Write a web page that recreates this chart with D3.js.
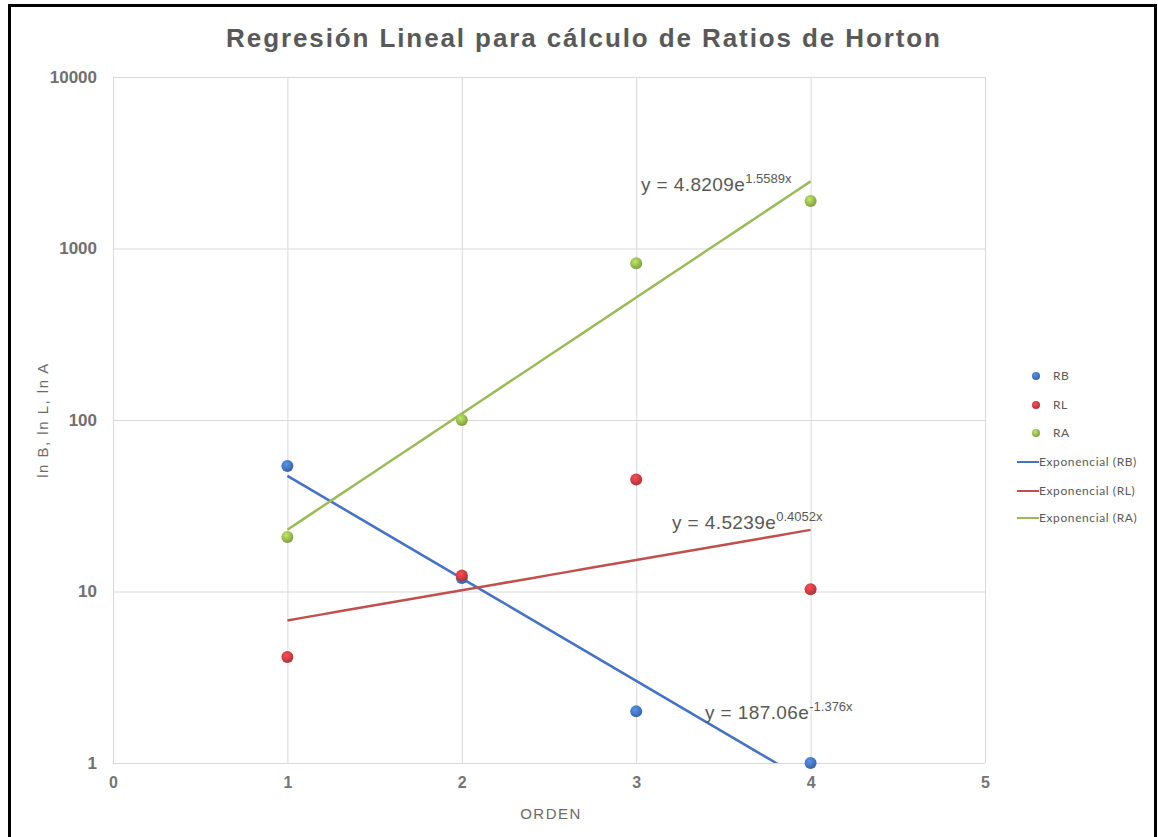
<!DOCTYPE html>
<html>
<head>
<meta charset="utf-8">
<script src="https://cdn.jsdelivr.net/npm/d3@7"></script>
<style>
  html, body { margin: 0; padding: 0; background: #fff; }
  svg { display: block; }
</style>
</head>
<body>
<svg id="chart" width="1158" height="837"></svg>
<script>
// Horton ratio data by stream order
const orders = [1, 2, 3, 4];
const rbValues = [54, 12, 2, 1];
const rlValues = [4.15, 12.4, 45, 10.3];
const raValues = [20.8, 100, 820, 1890];

// Exponential trendline coefficients: y = a * e^(b x)
const seriesNames = ["RB", "RL", "RA"];
const trendA = [187.06, 4.5239, 4.8209];
const trendB = [-1.376, 0.4052, 1.5589];
const trendLabels = ["y = 187.06e", "y = 4.5239e", "y = 4.8209e"];
const trendExps = ["-1.376x", "0.4052x", "1.5589x"];

const xTicks = [0, 1, 2, 3, 4, 5];
const yTicks = [1, 10, 100, 1000, 10000];

const colors = ["#4472c4", "#c0504d", "#9bbb59"];
const pointColors = ["#3f6fb5", "#c0393f", "#8fb04a"];

const svg = d3.select("#chart");
const FONT = "Liberation Sans, Arial, sans-serif";

// frame
svg.append("rect").attr("x", 9.5).attr("y", 5.5).attr("width", 1146).attr("height", 840)
  .attr("fill", "#fff").attr("stroke", "#000").attr("stroke-width", 3);

const plot = { left: 113, right: 985, top: 77, bottom: 763 };
const x = d3.scaleLinear().domain([0, 5]).range([plot.left, plot.right]);
const y = d3.scaleLog().domain([1, 10000]).range([plot.bottom, plot.top]);

// gridlines
svg.append("g").selectAll("line").data(yTicks).join("line")
  .attr("x1", plot.left).attr("x2", plot.right)
  .attr("y1", d => y(d) + 0.5).attr("y2", d => y(d) + 0.5)
  .attr("stroke", "#d9d9d9").attr("stroke-width", 1);
svg.append("g").selectAll("line").data(xTicks).join("line")
  .attr("y1", plot.top).attr("y2", plot.bottom)
  .attr("x1", d => x(d) + 0.5).attr("x2", d => x(d) + 0.5)
  .attr("stroke", "#d9d9d9").attr("stroke-width", 1);

// axis tick labels
const yAxis = d3.axisLeft(y).tickValues(yTicks).tickFormat(d3.format("d")).tickSize(0).tickPadding(16);
const gy = svg.append("g").attr("transform", `translate(${plot.left},0)`).call(yAxis);
gy.select(".domain").remove();
gy.selectAll("text").attr("font-family", FONT)
  .attr("font-size", 17).attr("font-weight", "bold").attr("fill", "#707070");

const xAxis = d3.axisBottom(x).tickValues(xTicks).tickFormat(d3.format("d")).tickSize(0).tickPadding(14);
const gx = svg.append("g").attr("transform", `translate(0,${plot.bottom})`).call(xAxis);
gx.select(".domain").remove();
gx.selectAll("text").attr("font-family", FONT)
  .attr("font-size", 16).attr("font-weight", "bold").attr("fill", "#757575");

// title
svg.append("text").attr("x", 584).attr("y", 47).attr("text-anchor", "middle")
  .attr("font-family", FONT).attr("font-size", 26).attr("letter-spacing", 1.9)
  .attr("font-weight", "bold").attr("fill", "#595959")
  .text("Regresión Lineal para cálculo de Ratios de Horton");

// axis titles
svg.append("text").attr("transform", "translate(48,420) rotate(-90)").attr("text-anchor", "middle")
  .attr("font-family", FONT).attr("font-size", 15).attr("letter-spacing", 1.5).attr("fill", "#6b6b6b")
  .text("ln B, ln L, ln A");
svg.append("text").attr("x", 551).attr("y", 819).attr("text-anchor", "middle")
  .attr("font-family", FONT).attr("font-size", 15).attr("letter-spacing", 1.5).attr("fill", "#6b6b6b")
  .text("ORDEN");

// clip to plot
svg.append("clipPath").attr("id", "plotclip").append("rect")
  .attr("x", plot.left).attr("y", plot.top).attr("width", plot.right - plot.left).attr("height", plot.bottom - plot.top);

// trendlines
const line = d3.line().x(d => x(d[0])).y(d => y(d[1]));
const trendG = svg.append("g").attr("clip-path", "url(#plotclip)");
seriesNames.forEach((s, i) => {
  const pts = d3.range(0, 31).map(k => {
    const xv = 1 + k * 0.1;
    return [xv, Math.max(trendA[i] * Math.exp(trendB[i] * xv), 0.5)];
  });
  trendG.append("path").datum(pts).attr("d", line).attr("fill", "none")
    .attr("stroke", colors[i]).attr("stroke-width", 2.5);
});

// points
const allValues = [rbValues, rlValues, raValues];
const defs = svg.append("defs");
pointColors.forEach((c, i) => {
  const g = defs.append("radialGradient").attr("id", "pg" + i).attr("cx", "40%").attr("cy", "35%").attr("r", "65%");
  g.append("stop").attr("offset", "0%").attr("stop-color", d3.color(c).brighter(0.8));
  g.append("stop").attr("offset", "100%").attr("stop-color", d3.color(c).darker(0.3));
});
allValues.forEach((vals, i) => {
  svg.append("g").selectAll("circle").data(orders).join("circle")
    .attr("cx", d => x(d)).attr("cy", (d, j) => y(vals[j])).attr("r", 6)
    .attr("fill", `url(#pg${i})`);
});

// trendline equations
const eqPos = [[705, 719], [672, 529], [641, 191]];
seriesNames.forEach((s, i) => {
  const t = svg.append("text").attr("x", eqPos[i][0]).attr("y", eqPos[i][1])
    .attr("font-family", FONT).attr("font-size", 19).attr("letter-spacing", 0.4).attr("fill", "#595959");
  t.append("tspan").text(trendLabels[i]);
  t.append("tspan").attr("dy", -8).attr("font-size", 13).attr("letter-spacing", 0).text(trendExps[i]);
});

// legend
const legendItems = [
  { label: "RB", type: "dot", c: 0 },
  { label: "RL", type: "dot", c: 1 },
  { label: "RA", type: "dot", c: 2 },
  { label: "Exponencial (RB)", type: "line", c: 0 },
  { label: "Exponencial (RL)", type: "line", c: 1 },
  { label: "Exponencial (RA)", type: "line", c: 2 }
];
const legendY = [376, 405, 433, 462, 491, 518];
const lg = svg.append("g");
legendItems.forEach((it, i) => {
  if (it.type === "dot") {
    lg.append("circle").attr("cx", 1036).attr("cy", legendY[i]).attr("r", 4).attr("fill", `url(#pg${it.c})`);
  } else {
    lg.append("line").attr("x1", 1017).attr("x2", 1039).attr("y1", legendY[i]).attr("y2", legendY[i])
      .attr("stroke", colors[it.c]).attr("stroke-width", 2);
  }
  lg.append("text").attr("x", it.type === "dot" ? 1053 : 1039).attr("y", legendY[i] + 4)
    .attr("font-family", "Lato, Liberation Sans, sans-serif").attr("font-size", 12)
    .attr("letter-spacing", 0.6).attr("fill", "#595959")
    .text(it.label);
});
</script>
</body>
</html>
